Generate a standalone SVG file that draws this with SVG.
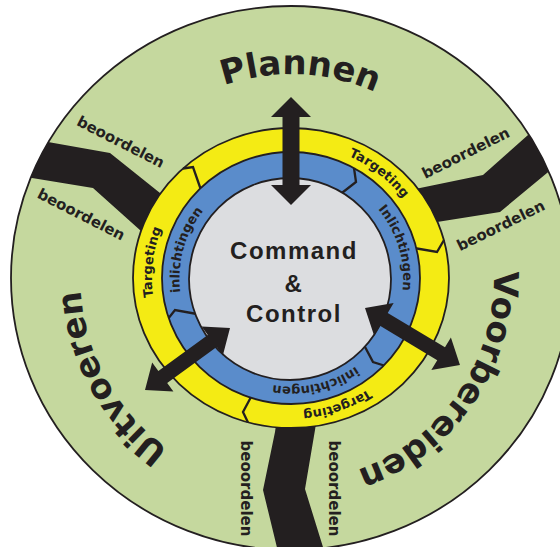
<svg xmlns="http://www.w3.org/2000/svg" width="560" height="547" viewBox="0 0 560 547">
<style>
.ln{fill:none;stroke:#231f20;stroke-width:2.3;stroke-linejoin:miter}
.edge{stroke:#231f20;stroke-width:1.8}
.blk{fill:#231f20}
.big{font-family:"DejaVu Sans",Verdana,sans-serif;font-weight:bold;font-size:34px;fill:#231f20}
.ring{font-family:"DejaVu Sans",Verdana,sans-serif;font-weight:bold;font-size:13px;fill:#231f20}
.beo{font-family:"DejaVu Sans",Verdana,sans-serif;font-weight:bold;font-size:15px;fill:#231f20;text-anchor:middle}
.cc{font-family:"Liberation Sans",Arial,sans-serif;font-weight:bold;font-size:24px;letter-spacing:1.5px;fill:#231f20;text-anchor:middle}
</style>
<defs>
<clipPath id="gclip"><ellipse cx="291" cy="278" rx="280" ry="272"/></clipPath>
<path id="pT1" d="M192.7,183.6 A139,133.5 0 0 1 404.9,354.6"/>
<path id="pT2" d="M263.3,408.8 A139,133.5 0 0 1 294.6,144.5"/>
<path id="pT3" d="M425.3,243.5 A139,133.5 0 0 1 165,334.4"/>
<path id="pI1" d="M269.6,171 A112,109 0 0 1 331.1,379.8"/>
<path id="pI2" d="M252.7,380.4 A112,109 0 0 1 310.4,170.7"/>
<path id="pI3" d="M401.8,262.3 A112,109 0 0 1 184.7,312.2"/>
<path id="pPl" d="M88.8,251 A204,204 0 0 1 494.8,269.5"/>
<path id="pUi" d="M376.8,470.7 A211,211 0 0 1 173,103.1"/>
<path id="pVo" d="M420.1,121.4 A203,203 0 0 1 191,454.7"/>
</defs>
<rect width="560" height="547" fill="#ffffff"/>
<g id="outer-ring">
<ellipse cx="291" cy="278" rx="280" ry="272" fill="#c5d89e" class="edge"/>
<g clip-path="url(#gclip)" class="blk">
<polygon points="0,133.5 48,142 110,153 180,209 160,248 93,188 32,178 0,172.6"/>
<polygon points="400,192 420,188 483,175 528,135 580,89 600,129 547,173 500,212 437,222 410,226"/>
<polygon points="278,410 318,410 315,430 305,489 327,560 280,560 263,490 275,432"/>
</g>
</g>
<g id="targeting-ring">
<ellipse cx="291" cy="278" rx="158" ry="150" fill="#f4eb14" class="edge"/>
<polyline class="ln" points="183,168.5 193,167 201,190"/>
<polyline class="ln" points="444,240 437,252 414,248"/>
<polyline class="ln" points="248,422.5 243,412 251,397"/>
</g>
<g id="inlichtingen-ring">
<ellipse cx="291" cy="278" rx="129" ry="126" fill="#5a8ccb" class="edge"/>
<polyline class="ln" points="354,168 356,182 338,196"/>
<polyline class="ln" points="168.7,318 175,310 197,314"/>
<polyline class="ln" points="384,365.5 373,362 364,345"/>
</g>
<g id="command-control">
<ellipse cx="290" cy="279" rx="101" ry="101" fill="#dcdde0" class="edge"/>
</g>
<g id="ring-labels" class="ring">
<text><textPath href="#pT1" startOffset="50%" text-anchor="middle">Targeting</textPath></text>
<text><textPath href="#pT2" startOffset="50%" text-anchor="middle">Targeting</textPath></text>
<text><textPath href="#pT3" startOffset="50%" text-anchor="middle">Targeting</textPath></text>
<text><textPath href="#pI1" startOffset="50%" text-anchor="middle">Inlichtingen</textPath></text>
<text><textPath href="#pI2" startOffset="50%" text-anchor="middle">inlichtingen</textPath></text>
<text><textPath href="#pI3" startOffset="50%" text-anchor="middle">inlichtingen</textPath></text>
</g>
<g id="connectors" class="blk">
<polygon transform="translate(291,97) rotate(90)" points="0,0 20,-20 20,-8.5 88,-8.5 88,-20 108,0 88,20 88,8.5 20,8.5 20,20"/>
<polygon transform="translate(145,390) rotate(-36.1)" points="0,0 22,-18 22,-7.5 83.2,-7.5 83.2,-18 105.2,0 83.2,18 83.2,7.5 22,7.5 22,18"/>
<polygon transform="translate(365,308) rotate(31)" points="0,0 22,-19 22,-7.5 88.8,-7.5 88.8,-19 110.8,0 88.8,19 88.8,7.5 22,7.5 22,19"/>
</g>
<g id="center-label">
<text class="cc" x="294" y="259">Command</text>
<text class="cc" x="294" y="292">&amp;</text>
<text class="cc" x="294" y="322">Control</text>
</g>
<g id="plannen" class="big"><text><textPath href="#pPl" startOffset="50%" text-anchor="middle">Plannen</textPath></text></g>
<g id="uitvoeren" class="big"><text><textPath href="#pUi" startOffset="50%" text-anchor="middle">Uitvoeren</textPath></text></g>
<g id="voorbereiden" class="big"><text><textPath href="#pVo" startOffset="50%" text-anchor="middle">Voorbereiden</textPath></text></g>
<g id="beoordelen-labels">
<text class="beo" transform="translate(121,141.5) rotate(27)" y="5.7">beoordelen</text>
<text class="beo" transform="translate(81.5,214) rotate(27)" y="5.7">beoordelen</text>
<text class="beo" transform="translate(465.5,152.5) rotate(-26.5)" y="5.7">beoordelen</text>
<text class="beo" transform="translate(500.5,225) rotate(-26)" y="5.7">beoordelen</text>
<text class="beo" transform="translate(246.5,488.5) rotate(90)" y="5.7">beoordelen</text>
<text class="beo" transform="translate(335,488.5) rotate(90)" y="5.7">beoordelen</text>
</g>
</svg>
